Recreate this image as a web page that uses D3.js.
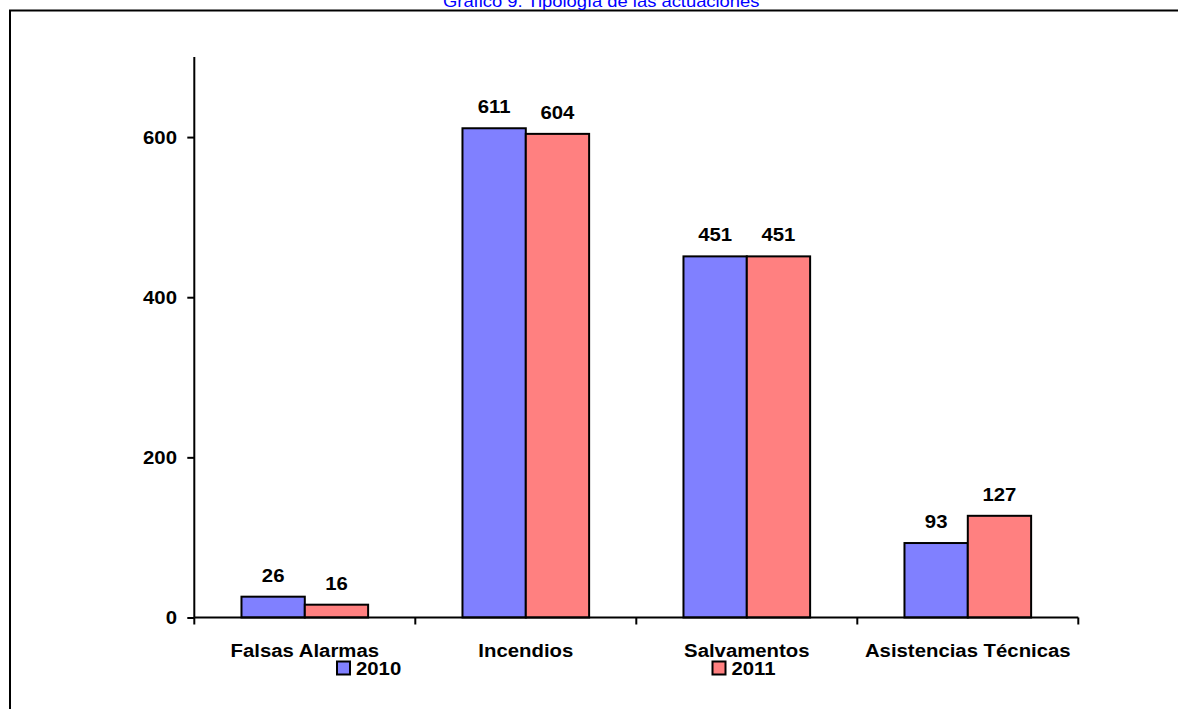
<!DOCTYPE html>
<html><head><meta charset="utf-8">
<script src="https://cdn.jsdelivr.net/npm/d3@7/dist/d3.min.js"></script>
<style>
html,body{margin:0;padding:0;background:#fff;overflow:hidden;}
svg{display:block;font-family:"Liberation Sans",Arial,sans-serif;}
</style></head>
<body>
<script>
const title = "Gráfico 9. Tipología de las actuaciones";
const categories = ["Falsas Alarmas", "Incendios", "Salvamentos", "Asistencias Técnicas"];
const seriesNames = ["2010", "2011"];
const values2010 = [26, 611, 451, 93];
const values2011 = [16, 604, 451, 127];
const yTicks = [0, 200, 400, 600];
const colors = ["#8080FF", "#FF8080"];

const W = 1178, H = 709;
const svg = d3.select("body").append("svg").attr("width", W).attr("height", H);

// frame: only left and top edges are inside the picture
svg.append("path").attr("d", `M10,${H + 5}V10.5H${W + 5}`)
  .attr("fill", "none").attr("stroke", "#000").attr("stroke-width", 2);

// title (top part cut by the picture edge)
svg.append("text").attr("transform", "translate(443,6.5) scale(1.1,1)").attr("fill", "#0000FF")
  .attr("font-size", "16.7px").text(title);

const left = 194.3, right = 1078.3, y0 = 617.5, yTop = 57;
const x0 = d3.scaleBand().domain(categories).range([left, right]).padding(0);
const x1 = d3.scaleBand().domain(seriesNames).range([0, x0.bandwidth()]).paddingOuter(0.745).paddingInner(0);
const y = d3.scaleLinear().domain([0, 700]).range([y0, yTop]);

const data = categories.map((c, i) => ({cat: c, vals: [values2010[i], values2011[i]]}));

function sText(g, x, yy, txt, anchor) {
  return g.append("text").attr("transform", `translate(${x},${yy}) scale(1.1,1)`)
    .attr("text-anchor", anchor || "middle").attr("font-weight", "bold")
    .attr("font-size", "18.5px").attr("fill", "#000").text(txt);
}

// bars
const groups = svg.append("g").selectAll("g").data(data).join("g")
  .attr("transform", d => `translate(${x0(d.cat)},0)`);
groups.selectAll("rect").data(d => d.vals.map((v, j) => ({v, s: seriesNames[j], j})))
  .join("rect")
  .attr("x", d => x1(d.s)).attr("y", d => y(d.v))
  .attr("width", x1.bandwidth()).attr("height", d => y(0) - y(d.v))
  .attr("fill", d => colors[d.j]).attr("stroke", "#000").attr("stroke-width", 2);

// value labels
const lab = svg.append("g");
data.forEach(d => {
  d.vals.forEach((v, j) => {
    sText(lab, x0(d.cat) + x1(seriesNames[j]) + x1.bandwidth() / 2, y(v) - 15, String(v));
  });
});

// y axis
const yAxis = d3.axisLeft(y).tickValues(yTicks).tickSize(7).tickFormat(d3.format("d"));
const ya = svg.append("g").attr("transform", `translate(${left},0)`).call(yAxis);
ya.select(".domain").attr("stroke", "#000").attr("stroke-width", 2).attr("d", `M0,${yTop}V${y0}`);
ya.selectAll(".tick line").attr("stroke", "#000").attr("stroke-width", 2);
ya.selectAll(".tick text").remove();
yTicks.forEach(t => sText(svg, 177, y(t) + 6.7, String(t), "end"));

// x axis
const xa = svg.append("g").attr("transform", `translate(0,${y0})`);
xa.append("line").attr("x1", left).attr("x2", right).attr("stroke", "#000").attr("stroke-width", 2);
const bounds = categories.map(c => x0(c)).concat([right]);
xa.selectAll("line.tk").data(bounds).join("line").attr("class", "tk")
  .attr("x1", d => d).attr("x2", d => d).attr("y1", 0).attr("y2", 7)
  .attr("stroke", "#000").attr("stroke-width", 2);
categories.forEach(c => sText(svg, x0(c) + x0.bandwidth() / 2, 657, c));

// legend
const legendPos = [337, 712.5];
seriesNames.forEach((s, i) => {
  svg.append("rect").attr("x", legendPos[i]).attr("y", 661.5).attr("width", 13).attr("height", 13)
    .attr("fill", colors[i]).attr("stroke", "#000").attr("stroke-width", 2);
  sText(svg, legendPos[i] + 19, 675, s, "start");
});
</script>
</body></html>
